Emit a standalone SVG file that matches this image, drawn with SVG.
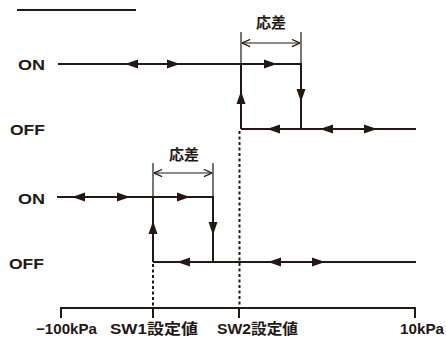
<svg xmlns="http://www.w3.org/2000/svg" width="446" height="338" viewBox="0 0 446 338">
<style>
.t{font-family:"Liberation Sans","Noto Sans CJK JP",sans-serif;font-weight:bold;fill:#231815}
.ln{stroke:#231815;stroke-width:2;fill:none}
.thin{stroke:#231815;stroke-width:1.2;fill:none}
.dash{stroke:#231815;stroke-width:2;stroke-dasharray:3 2.5;fill:none}
</style>
<defs>
<path id="ah" d="M0,0 L-13,-4.5 L-13,4.5 Z" fill="#231815"/>
<marker id="open" viewBox="0 0 10 10" refX="10" refY="5" markerWidth="9" markerHeight="9" markerUnits="userSpaceOnUse" orient="auto-start-reverse">
<path d="M1,1 L10,5 L1,9" fill="none" stroke="#231815" stroke-width="1.3"/>
</marker>
</defs>
<rect width="446" height="338" fill="#fff"/>
<line x1="17" y1="10" x2="136" y2="10" class="ln" stroke-width="1.6"/>
<g id="labels">
<text class="t" x="18" y="70" font-size="14.5" textLength="27" lengthAdjust="spacingAndGlyphs">ON</text>
<text class="t" x="10" y="135" font-size="14.5" textLength="35" lengthAdjust="spacingAndGlyphs">OFF</text>
<text class="t" x="18" y="204" font-size="14.5" textLength="27" lengthAdjust="spacingAndGlyphs">ON</text>
<text class="t" x="9" y="269" font-size="14.5" textLength="35" lengthAdjust="spacingAndGlyphs">OFF</text>
<text class="t" x="271" y="28" font-size="15" text-anchor="middle">応差</text>
<text class="t" x="184" y="160" font-size="15" text-anchor="middle">応差</text>
</g>
<g id="axis">
<path class="ln" d="M61,318 V308 H415 V318 M153,308 V318 M239,308 V318"/>
<text class="t" x="36" y="334" font-size="14.5" textLength="61" lengthAdjust="spacingAndGlyphs">−100kPa</text>
<text class="t" x="110" y="334" font-size="14.5" textLength="88" lengthAdjust="spacingAndGlyphs">SW1設定値</text>
<text class="t" x="217" y="334" font-size="14.5" textLength="81" lengthAdjust="spacingAndGlyphs">SW2設定値</text>
<text class="t" x="400" y="334" font-size="14.5" textLength="44" lengthAdjust="spacingAndGlyphs">10kPa</text>
</g>
<g id="connectors">
<path class="dash" d="M153,264 V308"/>
<path class="dash" d="M239.5,131 V308"/>
<path class="ln" d="M58,64 H301 V129 M241,129 V64 M241,129 H416"/>
<path class="thin" d="M241,32 V64 M301,32 V64"/>
<path class="thin" d="M242,43 H300" marker-start="url(#open)" marker-end="url(#open)"/>
<use href="#ah" transform="translate(125,64) rotate(180)"/>
<use href="#ah" transform="translate(180,64)"/>
<use href="#ah" transform="translate(277,64)"/>
<use href="#ah" transform="translate(241,91) rotate(-90)"/>
<use href="#ah" transform="translate(301,102) rotate(90)"/>
<use href="#ah" transform="translate(267,129) rotate(180)"/>
<use href="#ah" transform="translate(320,129) rotate(180)"/>
<use href="#ah" transform="translate(377,129)"/>
<path class="ln" d="M57,197 H213 V262 M153,262 V197 M153,262 H416"/>
<path class="thin" d="M153,163 V197 M213,163 V197"/>
<path class="thin" d="M154,173 H212" marker-start="url(#open)" marker-end="url(#open)"/>
<use href="#ah" transform="translate(72,197) rotate(180)"/>
<use href="#ah" transform="translate(130,197)"/>
<use href="#ah" transform="translate(190,197)"/>
<use href="#ah" transform="translate(153,221) rotate(-90)"/>
<use href="#ah" transform="translate(213,235) rotate(90)"/>
<use href="#ah" transform="translate(177,262) rotate(180)"/>
<use href="#ah" transform="translate(268,262) rotate(180)"/>
<use href="#ah" transform="translate(325,262)"/>
</g>
</svg>
